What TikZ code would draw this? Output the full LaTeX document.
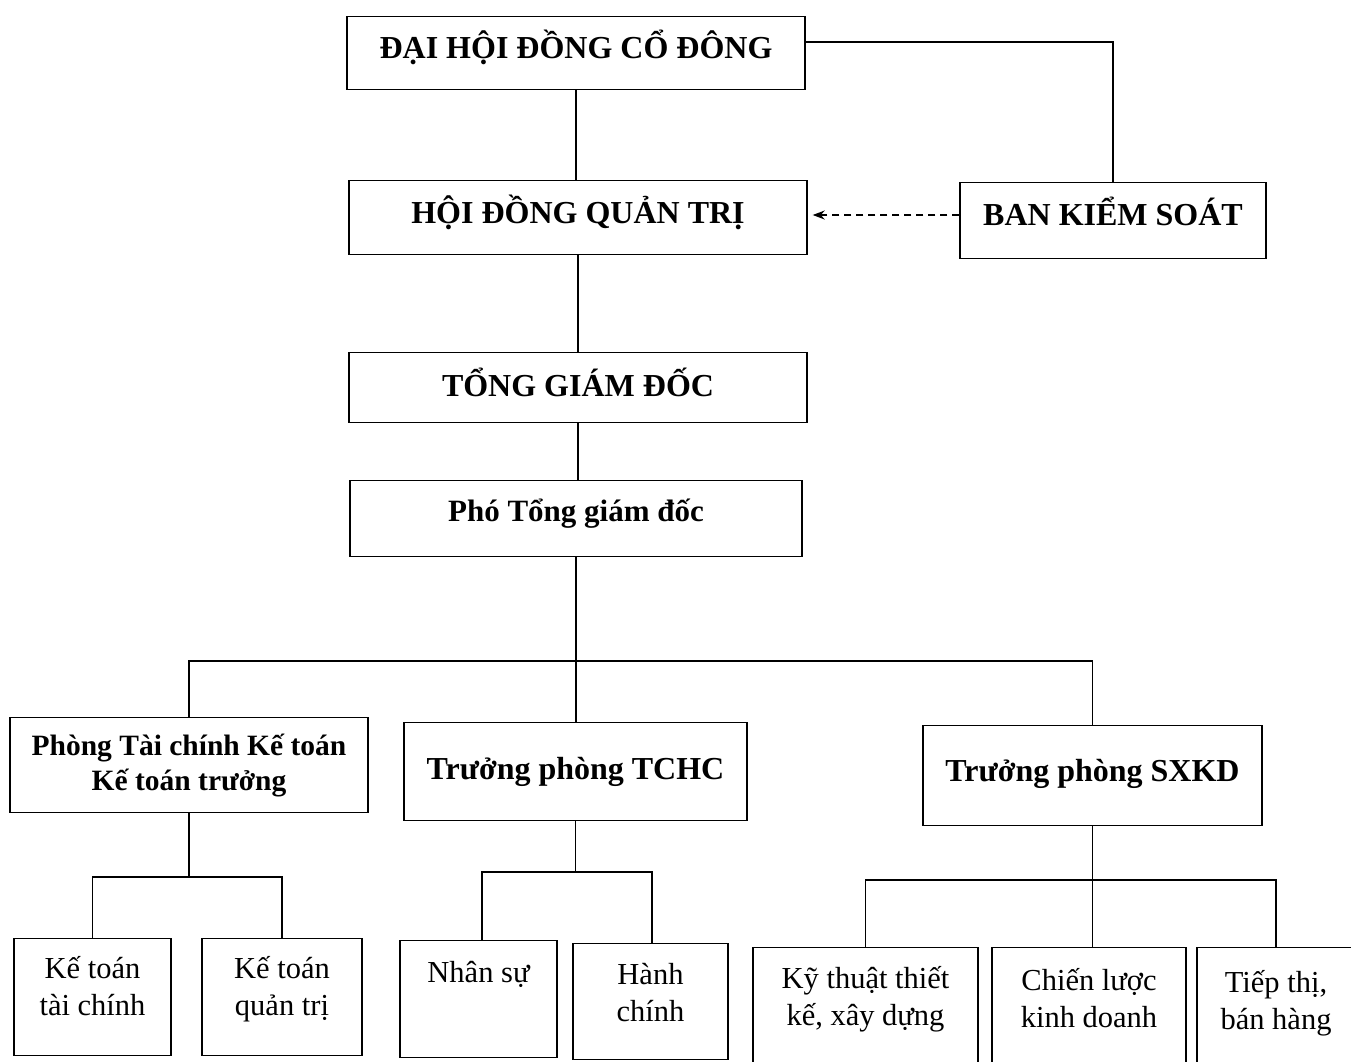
\documentclass[tikz,border=0pt]{standalone}
\usepackage{fontspec}
\setmainfont{Liberation Serif}
\usetikzlibrary{arrows.meta}
\tikzset{
  box/.style={draw, line width=1.4pt, inner sep=0pt, anchor=north, align=center},
  hdr/.style={font=\bfseries\fontsize{32}{38}\selectfont},
  sub/.style={font=\fontsize{30.5}{37}\selectfont},
  link/.style={line width=1.4pt},
}
\begin{document}
\begin{tikzpicture}[x=1pt,y=-1pt]
\useasboundingbox (0,0) rectangle (1351,1061);
% top levels
\node[box,hdr,minimum width=458pt,text height=42pt,text depth=31pt] (dh) at (576,16) {ĐẠI HỘI ĐỒNG CỔ ĐÔNG};
\node[box,hdr,minimum width=458pt,text height=43pt,text depth=31pt] (hd) at (578,180) {HỘI ĐỒNG QUẢN TRỊ};
\node[box,hdr,minimum width=306pt,text height=43pt,text depth=33pt] (bks) at (1113,182) {BAN KIỂM SOÁT};
\node[box,hdr,minimum width=458pt,text height=44pt,text depth=26pt] (tgd) at (578,352) {TỔNG GIÁM ĐỐC};
\node[box,font=\bfseries\fontsize{31}{38}\selectfont,minimum width=452pt,text height=41pt,text depth=35pt] (ptgd) at (576,480) {Phó Tổng giám đốc};
% departments
\node[box,font=\bfseries\fontsize{29.5}{35}\selectfont,minimum width=358pt,text height=73pt,text depth=22pt] (tckt) at (189,717) {Phòng Tài chính Kế toán\\Kế toán trưởng};
\node[box,hdr,minimum width=343pt,text height=57pt,text depth=41pt] (tchc) at (575.5,722) {Trưởng phòng TCHC};
\node[box,hdr,minimum width=339pt,text height=56pt,text depth=44pt] (sxkd) at (1092.5,725) {Trưởng phòng SXKD};
% sub units
\node[box,sub,minimum width=157pt,text height=77pt,text depth=40pt] (kttc) at (92.5,938) {Kế toán\\tài chính};
\node[box,sub,minimum width=160pt,text height=77pt,text depth=40pt] (ktqt) at (282,938) {Kế toán\\quản trị};
\node[box,sub,minimum width=157pt,text height=42pt,text depth=75pt] (ns) at (478.5,940) {Nhân sự};
\node[box,sub,minimum width=155pt,text height=78pt,text depth=38pt] (hc) at (650.5,943) {Hành\\chính};
\node[box,sub,minimum width=225pt,text height=78pt,text depth=37pt] (kt) at (865.5,947) {Kỹ thuật thiết\\kế, xây dựng};
\node[box,sub,minimum width=194pt,text height=80pt,text depth=35pt] (cl) at (1089,947) {Chiến lược\\kinh doanh};
\node[box,sub,minimum width=158pt,text height=82pt,text depth=33pt] (tt) at (1276,947) {Tiếp thị,\\bán hàng};
% connectors
\draw[link] (dh.east |- 0,42) -| (bks.north);
\draw[link] (dh.south) -- (dh.south |- hd.north);
\draw[link,dashed,dash pattern=on 7pt off 5pt,-{Stealth[length=12pt,width=9pt]}] (bks.west |- 0,215) -- ([xshift=5pt]hd.east |- 0,215);
\draw[link] (hd.south) -- (hd.south |- tgd.north);
\draw[link] (tgd.south) -- (tgd.south |- ptgd.north);
\draw[link] (ptgd.south) -- (ptgd.south |- tchc.north);
\draw[link] (tckt.north) -- (tckt.north |- 0,661) -| (sxkd.north);
\draw[link] (tckt.south) -- (tckt.south |- 0,877);
\draw[link] (kttc.north) -- (kttc.north |- 0,877) -| (ktqt.north);
\draw[link] (tchc.south) -- (tchc.south |- 0,872);
\draw[link] (ns.north) ++(3.5,0) coordinate (nsj) -- (nsj |- 0,872) -| ([xshift=1.5pt]hc.north);
\draw[link] (sxkd.south) -- (sxkd.south |- cl.north);
\draw[link] (kt.north) -- (kt.north |- 0,880) -| (tt.north);
\end{tikzpicture}
\end{document}
